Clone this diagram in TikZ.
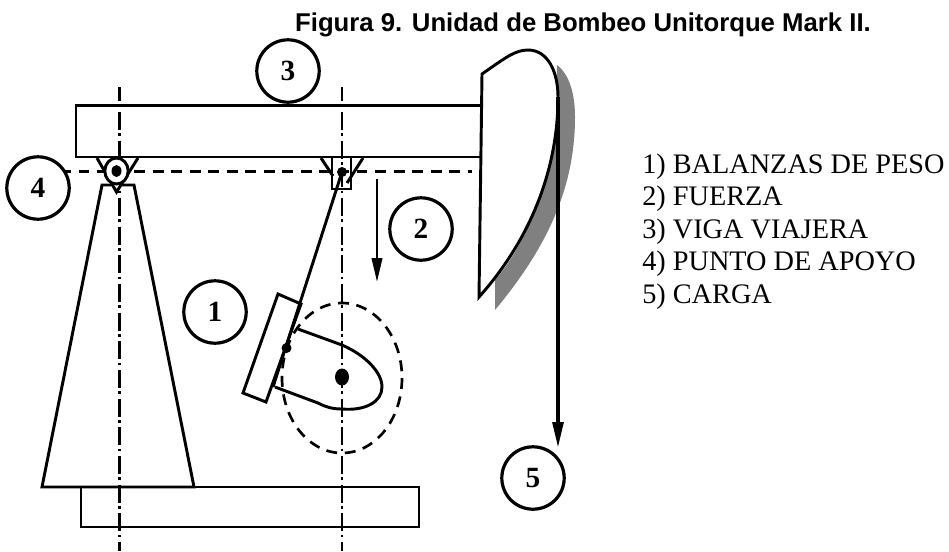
\documentclass[tikz,border=0pt]{standalone}
\usepackage{fontspec}
\setmainfont{Liberation Serif}
\newfontfamily\arialf{Liberation Sans}
\usetikzlibrary{arrows.meta}
\definecolor{shadowgray}{HTML}{808080}
\tikzset{
  x=0.75pt,y=-0.75pt,
  ln/.style={draw=black,line width=2.2pt,line join=miter},
  axisline/.style={draw=black,line width=2pt,dash pattern=on 13.5pt off 2.6pt on 2pt off 3.4pt,dash phase=2.8pt},
  dashline/.style={draw=black,line width=2pt,dash pattern=on 8.2pt off 5.7pt},
  numcircle/.style={circle,draw=black,fill=white,line width=2.4pt,minimum size=46.8pt,inner sep=0pt,font=\fontsize{22}{22}\selectfont\bfseries},
  legend/.style={anchor=base west,inner sep=0pt,font=\fontsize{21.2}{22}\selectfont},
  dot/.style={fill=black,draw=none},
  tippedA/.style={-{Triangle[length=18pt,width=7.8pt]},draw=black,line width=2pt},
  tippedB/.style={-{Triangle[length=19.5pt,width=8pt]},draw=black,line width=2.8pt}
}
\newcommand{\dg}[1]{\raisebox{-3pt}{#1}}
\begin{document}
\begin{tikzpicture}
\useasboundingbox (0,0) rectangle (949,551);
% shadow of the head
\fill[shadowgray] (495,280) .. controls (530,240) and (556,170) .. (557,65)
  .. controls (570,75) and (575,95) .. (575,117)
  .. controls (575,190) and (545,250) .. (495,310) -- cycle;
% centre lines
\coordinate (axL1) at (119.5,87); \coordinate (axL2) at (119.5,551);
\coordinate (axR1) at (342,87); \coordinate (axR2) at (342,551);
\draw[axisline] (axL1) -- (axL2);
\draw[axisline] (axR1) -- (axR2);
% fulcrum line
\coordinate (fl1) at (60,171.5); \coordinate (fl2) at (472,171.5);
\draw[dashline] (fl1) -- (fl2);
% dashed crank circle
\coordinate (hub) at (342,377);
\draw[dashline] (342,378) ellipse[x radius=60,y radius=75];
% A frame
\coordinate (fa) at (102,185); \coordinate (fb) at (134,185);
\coordinate (fc) at (194,487); \coordinate (fd) at (42,487);
\draw[ln] (fa) -- (fb) -- (fc) -- (fd) -- cycle;
% base
\draw[ln] (81,487) rectangle (419,527);
% beam
\draw[ln] (76,105.5) rectangle (483,157);
% left bearing
\draw[ln,fill=white] (97,158) -- (116.5,192) -- (138,158);
\draw[ln,fill=white] (116.5,171) ellipse[x radius=11.7,y radius=13];
\fill[dot] (116.5,171) ellipse[x radius=5,y radius=6];
% right bearing
\draw[ln] (321,158) -- (333,176);
\draw[ln] (363,158) -- (347,183);
\draw[ln] (332,157) rectangle (351,189);
\coordinate (wristT) at (342,172);
\fill[dot] (wristT) circle[radius=5];
% counterweight
\draw[ln,fill=white] (301,304) -- (278,294) -- (243,393) -- (266,402) -- cycle;
% crank
\draw[ln] (298,329) -- (342,345) .. controls (365,355) and (382,372) .. (382,387)
  .. controls (382,402) and (365,411) .. (342,409) .. controls (332,409) and (326,407) .. (318,403) -- (275,387);
% pitman
\coordinate (wristB) at (286.5,348);
\coordinate (pitEnd) at (273,387);
\draw[ln] (wristT) -- (pitEnd);
\fill[dot] (wristB) circle[radius=5];
\fill[dot] (hub) ellipse[x radius=7,y radius=8.5];
% head
\draw[ln,fill=white] (482,74) .. controls (505,58) and (515,50) .. (528,50)
  .. controls (548,50) and (558,72) .. (558,97)
  .. controls (558,170) and (530,240) .. (479,297) -- cycle;
% load
\coordinate (load1) at (558,97); \coordinate (load2) at (558,448);
\draw[tippedB] (load1) -- (load2);
% force arrow
\coordinate (force1) at (377,179); \coordinate (force2) at (377,282);
\draw[tippedA] (force1) -- (force2);
% numbered circles
\node[numcircle] (n1) at (215,312) {\dg{1}};
\node[numcircle] (n2) at (421,229) {\dg{2}};
\node[numcircle] (n3) at (288,71) {\dg{3}};
\node[numcircle] (n4) at (38,188) {\dg{4}};
\node[numcircle] (n5) at (533,478) {\dg{5}};
% title
\node[anchor=base,inner sep=0pt,font=\arialf\fontsize{19.3}{22}\selectfont\bfseries] (title) at (583,31) {Figura 9. Unidad de Bombeo Unitorque Mark II.};
% legend
\node[legend] (l1) at (642,173) {1) BALANZAS DE PESO};
\node[legend] (l2) at (642,205.5) {2) FUERZA};
\node[legend] (l3) at (642,238) {3) VIGA VIAJERA};
\node[legend] (l4) at (642,270) {4) PUNTO DE APOYO};
\node[legend] (l5) at (642,303) {5) CARGA};
\end{tikzpicture}
\end{document}
